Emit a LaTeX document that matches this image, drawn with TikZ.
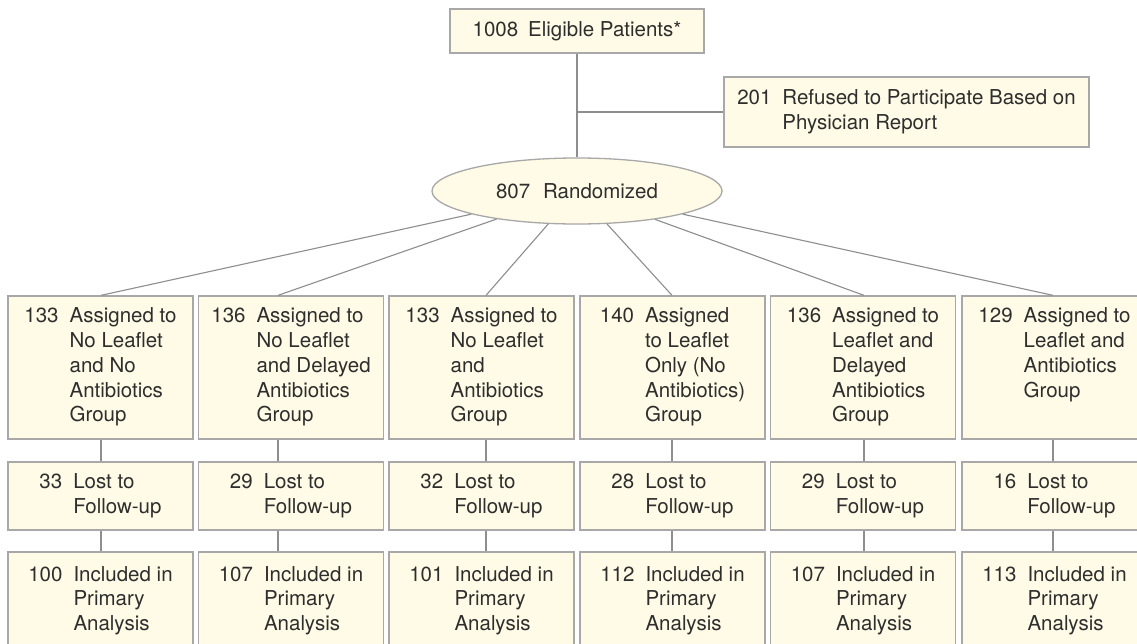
\documentclass[tikz,border=0pt]{standalone}
\usepackage{fontspec}
\setmainfont{TeX Gyre Heros}
\usetikzlibrary{shapes.geometric}
\definecolor{boxfill}{HTML}{FFFBE6}
\definecolor{boxline}{HTML}{A8A8A8}
\definecolor{conn}{HTML}{8E8E8E}
\definecolor{txt}{HTML}{2E2E2E}
\newcommand{\nt}[1]{\begin{tabular}{@{}r@{\hspace{11pt}}l@{}}#1\end{tabular}}
\begin{document}
\begin{tikzpicture}[x=1pt,y=-1pt,
  box/.style={draw=boxline, fill=boxfill, line width=1.3pt, inner sep=0pt, text=txt,
    font=\fontsize{20.5}{24.75}\selectfont},
  grp/.style={box, minimum width=185pt, minimum height=143pt},
  lost/.style={box, minimum width=185pt, minimum height=68pt},
  incl/.style={box, minimum width=185pt, minimum height=98pt},
  link/.style={draw=conn, line width=1.1pt}]
\clip (0,0) rectangle (1137,644);
\fill[white] (0,0) rectangle (1137,644);

% top
\node[box, minimum width=254pt, minimum height=44pt] (top) at (577,31) {1008\hspace{10pt}Eligible Patients*};
\node[box, minimum width=365pt, minimum height=70pt] (ref) at (906.5,112)
  {\nt{201 & Refused to Participate Based on\\ & Physician Report}};
\node[box, ellipse, minimum width=290pt, minimum height=66pt] (rand) at (577,191)
  {807\hspace{13pt}Randomized};

% column connector x positions
\coordinate (k1) at (101,0);
\coordinate (k2) at (278,0);
\coordinate (k3) at (486,0);
\coordinate (k4) at (672,0);
\coordinate (k5) at (864,0);
\coordinate (k6) at (1053,0);

% row 1
\node[grp] (g1) at (100.5,367.5) {\nt{133 & Assigned to\\ & No Leaflet\\ & and No\\ & Antibiotics\\ & Group}};
\node[grp] (g2) at (291,367.5) {\nt{136 & Assigned to\\ & No Leaflet\\ & and Delayed\\ & Antibiotics\\ & Group}};
\node[grp] (g3) at (481.5,367.5) {\nt{133 & Assigned to\\ & No Leaflet\\ & and\\ & Antibiotics\\ & Group}};
\node[grp] (g4) at (672.5,367.5) {\nt{140 & Assigned\\ & to Leaflet\\ & Only (No\\ & Antibiotics)\\ & Group}};
\node[grp] (g5) at (863,367.5) {\nt{136 & Assigned to\\ & Leaflet and\\ & Delayed\\ & Antibiotics\\ & Group}};
\node[grp] (g6) at (1054.5,367.5) {\nt{129 & Assigned to\\ & Leaflet and\\ & Antibiotics\\ & Group\\ & }};

% row 2
\node[lost] (l1) at (100.5,496) {\nt{33 & Lost to\\ & Follow-up}};
\node[lost] (l2) at (291,496) {\nt{29 & Lost to\\ & Follow-up}};
\node[lost] (l3) at (481.5,496) {\nt{32 & Lost to\\ & Follow-up}};
\node[lost] (l4) at (672.5,496) {\nt{28 & Lost to\\ & Follow-up}};
\node[lost] (l5) at (863,496) {\nt{29 & Lost to\\ & Follow-up}};
\node[lost] (l6) at (1054.5,496) {\nt{16 & Lost to\\ & Follow-up}};

% row 3
\node[incl] (p1) at (100.5,601) {\nt{100 & Included in\\ & Primary\\ & Analysis}};
\node[incl] (p2) at (291,601) {\nt{107 & Included in\\ & Primary\\ & Analysis}};
\node[incl] (p3) at (481.5,601) {\nt{101 & Included in\\ & Primary\\ & Analysis}};
\node[incl] (p4) at (672.5,601) {\nt{112 & Included in\\ & Primary\\ & Analysis}};
\node[incl] (p5) at (863,601) {\nt{107 & Included in\\ & Primary\\ & Analysis}};
\node[incl] (p6) at (1054.5,601) {\nt{113 & Included in\\ & Primary\\ & Analysis}};

% connectors
\coordinate (j) at (top.south |- ref.west);
\draw[link] (top.south) -- (rand.north);
\draw[link] (j) -- (ref.west);
\foreach \i in {1,...,6}{
  \draw[link] (rand) -- (g\i.north -| k\i);
  \draw[link] (g\i.south -| k\i) -- (l\i.north -| k\i);
  \draw[link] (l\i.south -| k\i) -- (p\i.north -| k\i);
}
\end{tikzpicture}
\end{document}
